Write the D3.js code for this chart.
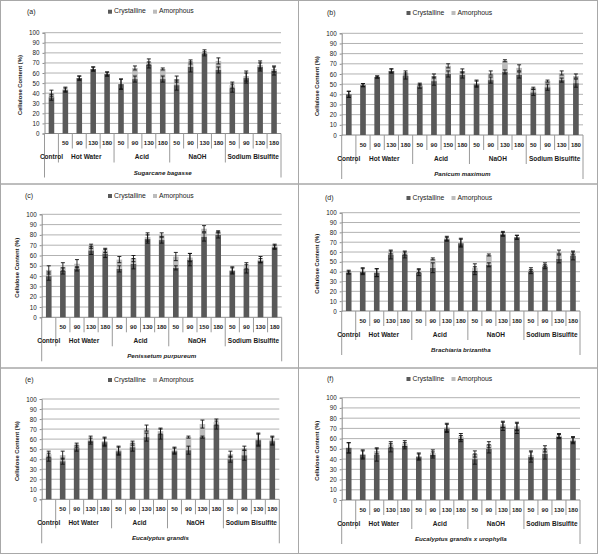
<!DOCTYPE html>
<html><head><meta charset="utf-8">
<script src="https://cdn.jsdelivr.net/npm/d3@7"></script>
<style>
body{margin:0;background:#fff}
svg{display:block}
text{font-family:"Liberation Sans",Arial,sans-serif;fill:#1a1a1a}
</style>
</head><body>
<svg id="chart" width="600" height="555"></svg>
<script>
// ---------- data ----------
const groupNames = ["Control", "Hot Water", "Acid", "NaOH", "Sodium Bisulfite"];
const categoryGroup = [0, 1,1,1,1, 2,2,2,2, 3,3,3,3, 4,4,4,4];
const subLabelsStd = ["", "50","90","130","180", "50","90","130","180", "50","90","130","180", "50","90","130","180"];
const subLabelsB   = ["", "50","90","130","180", "50","90","150","180", "50","90","130","180", "50","90","130","180"];
const subLabelsC   = ["", "50","90","130","180", "50","90","130","180", "50","90","150","180", "50","90","130","180"];
const yTicks = [0,10,20,30,40,50,60,70,80,90,100];
const seriesNames = ["Crystalline", "Amorphous"];
const panelLetters = ["(a)", "(b)", "(c)", "(d)", "(e)", "(f)"];
const speciesNames = ["Sugarcane bagasse", "Panicum maximum", "Penissetum purpureum",
                      "Brachiaria brizantha", "Eucalyptus grandis", "Eucalyptus grandis x urophylla"];

const crystallineA = [36,43,55,64,59,49,54,68,54,48,66,79,63,45,55,66,62];
const amorphousA   = [4,1,0,0,0,0,11,3,10,6,5,2,9,3,2,2,2];
const errCrystA    = [3,2,2,2,2,5,3,3,3,5,5,2,3,4,5,4,4];
const errTotalA    = [3,2,2,2,2,5,2,3,1,3,2,2,3,3,5,4,3];

const crystallineB = [40,49,57,63,58,48,53,60,59,50,54,62,59,42,47,54,51];
const amorphousB   = [0,0,0,0,3,2,5,8,4,1,7,11,7,4,6,7,7];
const errCrystB    = [3,1.5,1,2,3,2,4,3,3,3,3,2,3,3,3,2,4];
const errTotalB    = [3,1.5,1,2,2,1,2,2,2,3,2,1,3,1,1,2,2];

const crystallineC = [40,45,47,65,62,47,52,76,75,48,56,78,80,45,47,55,68];
const amorphousC   = [6,4,5,4,3,9,5,2,5,11,2,8,3,1,3,1,1];
const errCrystC    = [4,3,2,4,4,3,5,4,3,2,6,4,3,3,4,2,2];
const errTotalC    = [4,4,4,2,2,3,3,4,2,4,4,3,1,3,3,3,2];

const crystallineD = [39,40,39,57,57,39,44,73,69,41,47,78,75,40,45,53,56];
const amorphousD   = [1,1,0,3,2,2,9,1,1,3,10,1,0,2,2,7,3];
const errCrystD    = [1.5,3,4,4,3,3,5,2,4,4,2,2,2,2,2,4,4];
const errTotalD    = [1.5,3,4,2,2,2,1,2,4,4,1,2,2,2,2,2,2];

const crystallineE = [42,38,51,58,57,48,52,62,65,48,49,62,74,40,44,59,58];
const amorphousE   = [3,6,3,2,1,1,4,9,3,1,13,13,3,5,7,1,1];
const errCrystE    = [4,3,3,3,4,4,4,4,5,3,4,1,4,3,5,6,4];
const errTotalE    = [3,4,2,3,4,4,2,3,3,3,1,4,3,3,2,6,4];

const crystallineF = [51,44,44,51,53,42,44,70,60,40,50,72,70,42,45,62,58];
const amorphousF   = [0,1,4,3,2,1,2,1,2,5,4,2,2,2,5,1,1];
const errCrystF    = [5,4,6,4,3,3,3,4,3,5,4,4,5,5,5,2,3];
const errTotalF    = [5,4,3,3,3,3,3,4,3,3,3,3,4,4,3,2,3];

const panelData = [
  {cr: crystallineA, am: amorphousA, eC: errCrystA, eT: errTotalA, sub: subLabelsStd},
  {cr: crystallineB, am: amorphousB, eC: errCrystB, eT: errTotalB, sub: subLabelsB},
  {cr: crystallineC, am: amorphousC, eC: errCrystC, eT: errTotalC, sub: subLabelsC},
  {cr: crystallineD, am: amorphousD, eC: errCrystD, eT: errTotalD, sub: subLabelsStd},
  {cr: crystallineE, am: amorphousE, eC: errCrystE, eT: errTotalE, sub: subLabelsStd},
  {cr: crystallineF, am: amorphousF, eC: errCrystF, eT: errTotalF, sub: subLabelsStd}
];

// ---------- layout ----------
const panelX = [0, 298.5], panelY = [0, 183.5, 367.5], panelH = [183.5, 184, 185.5];
const plotBox = [
  {l:44.5, r:281,   t:32.7, b:133.5, head:11.7, lx:27},
  {l:43.2, r:284.5, t:33.3, b:135,   head:13,   lx:28.5},
  {l:41.7, r:281.7, t:30.8, b:133.8, head:12.5, lx:25},
  {l:43.2, r:281.5, t:29.2, b:127.5, head:14.5, lx:26.5},
  {l:41.7, r:279.3, t:31.5, b:131.8, head:12.5, lx:25},
  {l:43.2, r:281.5, t:30.2, b:132.5, head:11.5, lx:28.5}
];
const colDark = "#595959", colLight = "#bcbcbc", gridCol = "#b2b2b2";

const svg = d3.select("#chart");

panelData.forEach((pd, p) => {
  const col = p % 2, row = Math.floor(p / 2);
  const ox = panelX[col], oy = panelY[row];
  const box = plotBox[p];
  const g = svg.append("g").attr("transform", `translate(${ox},${oy})`);

  // panel frame
  g.append("rect").attr("x", col === 0 ? 0.5 : 0).attr("y", 0.5)
    .attr("width", col === 0 ? 298 : 299).attr("height", panelH[row])
    .attr("fill", "none").attr("stroke", "#a8a8a8").attr("stroke-width", 1);

  const idx = d3.range(17);
  const x = d3.scaleBand().domain(idx).range([box.l, box.r])
    .paddingInner(0.6).paddingOuter(0.3);
  const y = d3.scaleLinear().domain([0, 100]).range([box.b, box.t]);
  const step = x.step();

  // gridlines
  g.append("g").selectAll("line").data(yTicks.filter(v => v > 0)).join("line")
    .attr("x1", box.l).attr("x2", box.r)
    .attr("y1", d => y(d)).attr("y2", d => y(d))
    .attr("stroke", gridCol).attr("stroke-width", 1);

  // y axis
  const ya = g.append("g").attr("transform", `translate(${box.l},0)`)
    .call(d3.axisLeft(y).tickValues(yTicks).tickSize(2).tickPadding(3));
  ya.select(".domain").attr("stroke", "#8c8c8c");
  ya.selectAll(".tick line").attr("stroke", "#8c8c8c");
  ya.selectAll(".tick text").attr("font-size", 6.3).attr("fill", "#1a1a1a")
    .attr("font-family", '"Liberation Sans",Arial,sans-serif');

  // x-axis baseline
  g.append("line").attr("x1", box.l).attr("x2", box.r)
    .attr("y1", y(0)).attr("y2", y(0)).attr("stroke", "#8c8c8c");

  // bars
  const bw = x.bandwidth();
  g.append("g").selectAll("rect").data(idx).join("rect")
    .attr("x", i => x(i)).attr("width", bw)
    .attr("y", i => y(pd.cr[i])).attr("height", i => y(0) - y(pd.cr[i]))
    .attr("fill", colDark);
  g.append("g").selectAll("rect").data(idx.filter(i => pd.am[i] > 0)).join("rect")
    .attr("x", i => x(i)).attr("width", bw)
    .attr("y", i => y(pd.cr[i] + pd.am[i]))
    .attr("height", i => y(pd.cr[i]) - y(pd.cr[i] + pd.am[i]))
    .attr("fill", colLight);

  // error bars
  const errs = [];
  idx.forEach(i => {
    errs.push({i, v: pd.cr[i], e: pd.eC[i]});
    errs.push({i, v: pd.cr[i] + pd.am[i], e: pd.eT[i]});
  });
  const eg = g.append("g").attr("stroke", "#111").attr("stroke-width", 0.9);
  errs.forEach(d => {
    const cx = x(d.i) + bw / 2;
    eg.append("line").attr("x1", cx).attr("x2", cx).attr("y1", y(d.v - d.e)).attr("y2", y(d.v + d.e));
    eg.append("line").attr("x1", cx - 2).attr("x2", cx + 2).attr("y1", y(d.v - d.e)).attr("y2", y(d.v - d.e));
    eg.append("line").attr("x1", cx - 2).attr("x2", cx + 2).attr("y1", y(d.v + d.e)).attr("y2", y(d.v + d.e));
  });

  // multi-level category axis
  const y0 = y(0);
  const sepG = g.append("g").attr("stroke", "#9a9a9a").attr("stroke-width", 1);
  for (let k = 0; k <= 17; k++) {
    const sx = box.l + k * step;
    let len;
    if (k === 0 || k === 17) len = 44;
    else if (categoryGroup[k] !== categoryGroup[k - 1]) len = 29;
    else len = 15;
    sepG.append("line").attr("x1", sx).attr("x2", sx).attr("y1", y0).attr("y2", y0 + len);
  }
  g.append("g").selectAll("text").data(idx).join("text")
    .attr("x", i => x(i) + bw / 2).attr("y", y0 + 10)
    .attr("text-anchor", "middle").attr("dominant-baseline", "middle")
    .attr("font-size", 6).attr("font-weight", "bold")
    .text(i => pd.sub[i]);
  g.append("g").selectAll("text").data(groupNames).join("text")
    .attr("x", (d, gi) => {
      const members = idx.filter(i => categoryGroup[i] === gi);
      return box.l + (members[0] + members[members.length - 1] + 1) / 2 * step;
    })
    .attr("y", y0 + 24)
    .attr("text-anchor", "middle").attr("dominant-baseline", "middle")
    .attr("font-size", 6.5).attr("font-weight", "bold")
    .text(d => d);
  g.append("text")
    .attr("x", (box.l + box.r) / 2).attr("y", y0 + 39.5)
    .attr("text-anchor", "middle").attr("dominant-baseline", "middle")
    .attr("font-size", 6.2).attr("font-weight", "bold").attr("font-style", "italic")
    .text(speciesNames[p]);

  // y axis title
  g.append("text")
    .attr("transform", `translate(${box.l - 24},${(box.t + box.b) / 2 + 2}) rotate(-90)`)
    .attr("text-anchor", "middle").attr("dominant-baseline", "middle")
    .attr("font-size", 5.8).attr("font-weight", "bold")
    .text("Cellulose Content (%)");

  // panel letter
  g.append("text").attr("x", box.lx).attr("y", box.head)
    .attr("dominant-baseline", "middle").attr("font-size", 7).text(panelLetters[p]);

  // legend
  const lg = g.append("g").attr("transform", `translate(108,${box.head})`);
  seriesNames.forEach((s, si) => {
    const lx = si * 45;
    lg.append("rect").attr("x", lx).attr("y", -2).attr("width", 4).attr("height", 4)
      .attr("fill", si === 0 ? colDark : colLight);
    lg.append("text").attr("x", lx + 6).attr("y", 0).attr("dominant-baseline", "middle")
      .attr("font-size", 6.8).text(s);
  });
});
</script>
</body></html>
